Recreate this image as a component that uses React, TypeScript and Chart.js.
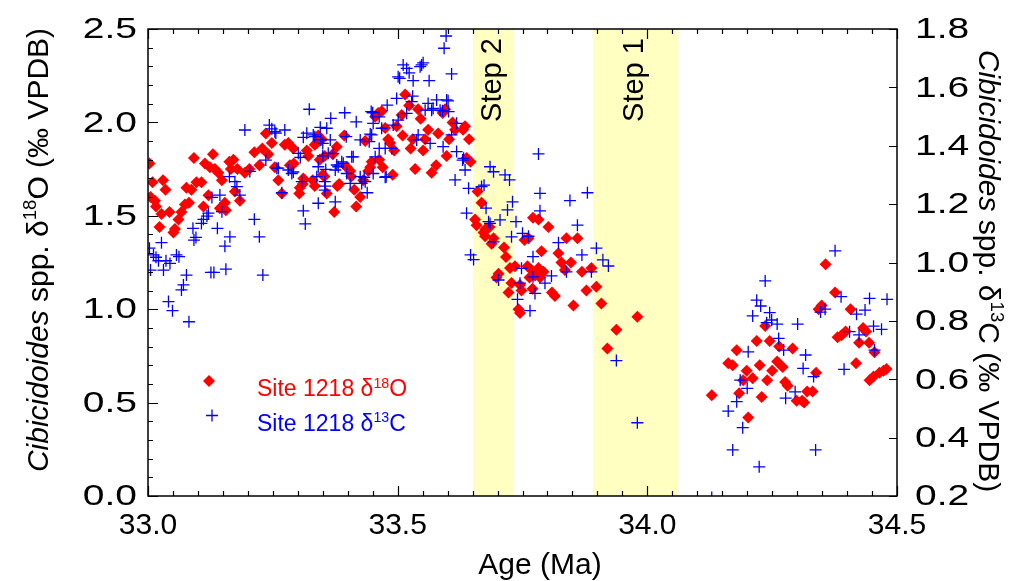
import React, { useEffect, useRef } from 'react';
import { Chart, registerables } from 'chart.js';

Chart.register(...registerables);

// ---- Data ----
const o18Points: [number, number][] = [
  [33.003, 1.78], [33.005, 1.60], [33.009, 1.68], [33.014, 1.58], [33.016, 1.55], [33.023, 1.44],
  [33.027, 1.51], [33.030, 1.69], [33.035, 1.64], [33.043, 1.52], [33.051, 1.41], [33.054, 1.43],
  [33.061, 1.48], [33.067, 1.52], [33.074, 1.56], [33.077, 1.65], [33.082, 1.57], [33.087, 1.64],
  [33.092, 1.81], [33.097, 1.68], [33.107, 1.68], [33.111, 1.55], [33.114, 1.78], [33.121, 1.61],
  [33.124, 1.76], [33.130, 1.83], [33.134, 1.75], [33.141, 1.73], [33.144, 1.54], [33.148, 1.69],
  [33.154, 1.57], [33.156, 1.53], [33.163, 1.79], [33.166, 1.75], [33.171, 1.80], [33.174, 1.63],
  [33.179, 1.75], [33.184, 1.58], [33.194, 1.73], [33.203, 1.75], [33.213, 1.84], [33.223, 1.77],
  [33.229, 1.86], [33.236, 1.94], [33.241, 1.83], [33.248, 1.89], [33.254, 1.76], [33.261, 1.69],
  [33.268, 1.62], [33.274, 1.88], [33.281, 1.89], [33.284, 1.77], [33.291, 1.86], [33.292, 1.78],
  [33.303, 1.62], [33.304, 1.65], [33.310, 1.67], [33.311, 1.70], [33.318, 1.85], [33.321, 1.82],
  [33.330, 1.69], [33.334, 1.88], [33.334, 1.66], [33.338, 1.89], [33.341, 1.93], [33.344, 1.80],
  [33.348, 1.91], [33.350, 1.72], [33.353, 1.71], [33.354, 1.82], [33.358, 1.62], [33.370, 1.83],
  [33.373, 1.52], [33.378, 1.87], [33.379, 1.66], [33.383, 1.67], [33.393, 1.93], [33.398, 1.76],
  [33.405, 1.74], [33.407, 1.71], [33.413, 1.64], [33.417, 1.55], [33.425, 1.60], [33.431, 1.69],
  [33.435, 1.90], [33.441, 1.74], [33.445, 1.76], [33.448, 1.79], [33.455, 2.03], [33.461, 2.05],
  [33.463, 1.80], [33.468, 2.06], [33.470, 1.76], [33.475, 1.97], [33.481, 1.91], [33.485, 1.89],
  [33.490, 1.72], [33.493, 1.85], [33.498, 1.98], [33.508, 2.04], [33.510, 1.93], [33.515, 2.15],
  [33.523, 2.09], [33.526, 1.86], [33.530, 1.91], [33.535, 1.75], [33.541, 2.07], [33.546, 2.02],
  [33.551, 1.85], [33.555, 1.91], [33.561, 1.96], [33.568, 1.73], [33.577, 1.77], [33.581, 1.94],
  [33.590, 2.05], [33.595, 2.07], [33.598, 1.82], [33.603, 1.91], [33.610, 2.00], [33.615, 1.96],
  [33.631, 1.96], [33.635, 1.98], [33.638, 1.81], [33.643, 1.91], [33.646, 1.79], [33.655, 1.48],
  [33.658, 1.45], [33.660, 1.63], [33.668, 1.57], [33.672, 1.41], [33.675, 1.39], [33.676, 1.43],
  [33.684, 1.44], [33.688, 1.35], [33.692, 1.38], [33.698, 1.17], [33.702, 1.19], [33.713, 1.33],
  [33.717, 1.28], [33.722, 1.09], [33.725, 1.22], [33.728, 1.14], [33.735, 1.23], [33.742, 1.00],
  [33.745, 0.98], [33.745, 1.13], [33.748, 1.10], [33.754, 1.37], [33.760, 1.23], [33.762, 1.38],
  [33.764, 1.17], [33.768, 1.21], [33.770, 1.11], [33.771, 1.49], [33.775, 1.18], [33.782, 1.48],
  [33.782, 1.22], [33.785, 1.17], [33.788, 1.31], [33.792, 1.20], [33.802, 1.44], [33.809, 1.09],
  [33.815, 1.07], [33.822, 1.30], [33.828, 1.25], [33.835, 1.21], [33.838, 1.38], [33.847, 1.25],
  [33.852, 1.02], [33.860, 1.38], [33.869, 1.20], [33.878, 1.10], [33.888, 1.22], [33.898, 1.12],
  [33.908, 1.03], [33.920, 0.79], [33.938, 0.89], [33.980, 0.96],
  [34.129, 0.54], [34.162, 0.71], [34.171, 0.70], [34.179, 0.78], [34.184, 0.55], [34.192, 0.62],
  [34.199, 0.67], [34.202, 0.42], [34.211, 0.63], [34.219, 0.83], [34.225, 0.70], [34.229, 0.53],
  [34.236, 0.91], [34.240, 0.62], [34.245, 0.83], [34.250, 0.67], [34.260, 0.72], [34.264, 0.80],
  [34.271, 0.69], [34.276, 0.61], [34.281, 0.59], [34.291, 0.79], [34.299, 0.51], [34.310, 0.51],
  [34.314, 0.50], [34.320, 0.56], [34.331, 0.56], [34.338, 0.66], [34.343, 1.00], [34.349, 1.02],
  [34.357, 1.24], [34.376, 1.09], [34.381, 0.85], [34.389, 0.86], [34.397, 0.88], [34.407, 1.00],
  [34.418, 0.71], [34.424, 0.82], [34.432, 0.90], [34.438, 0.88], [34.444, 0.82], [34.455, 0.77],
  [34.445, 0.62], [34.453, 0.64], [34.465, 0.66], [34.473, 0.67], [34.479, 0.68],
];

const c13Points: [number, number][] = [
  [33.003, 1.049], [33.005, 0.974], [33.011, 1.026], [33.016, 1.018], [33.021, 1.006], [33.027, 1.068],
  [33.031, 0.974], [33.036, 1.006], [33.041, 0.866], [33.044, 0.997], [33.049, 0.835], [33.057, 1.026],
  [33.062, 1.020], [33.067, 0.906], [33.071, 0.923], [33.077, 0.957], [33.082, 0.797], [33.090, 1.117],
  [33.092, 1.077], [33.096, 1.086], [33.107, 1.134], [33.111, 1.148], [33.118, 1.159], [33.121, 1.169],
  [33.126, 0.966], [33.128, 1.223], [33.132, 0.966], [33.139, 1.117], [33.144, 1.231], [33.148, 1.174],
  [33.154, 1.056], [33.156, 0.977], [33.163, 1.294], [33.164, 1.088], [33.174, 1.277], [33.178, 1.260],
  [33.184, 1.231], [33.194, 1.454], [33.204, 1.312], [33.213, 1.148], [33.223, 1.088], [33.230, 0.957],
  [33.236, 1.351], [33.243, 1.471], [33.248, 1.458], [33.254, 1.448], [33.256, 1.443], [33.258, 1.323],
  [33.261, 1.323], [33.268, 1.239], [33.274, 1.454], [33.281, 1.317], [33.288, 1.305], [33.291, 1.310],
  [33.301, 1.374], [33.305, 1.360], [33.308, 1.277], [33.311, 1.429], [33.311, 1.177], [33.315, 1.132],
  [33.318, 1.443], [33.323, 1.525], [33.331, 1.437], [33.334, 1.431], [33.338, 1.294], [33.341, 1.203],
  [33.341, 1.328], [33.345, 1.463], [33.346, 1.420], [33.350, 1.408], [33.350, 1.365], [33.354, 1.277],
  [33.354, 1.248], [33.355, 1.262], [33.356, 1.319], [33.358, 1.460], [33.361, 1.374], [33.365, 1.420],
  [33.366, 1.494], [33.371, 1.374], [33.375, 1.317], [33.375, 1.208], [33.378, 1.334], [33.381, 1.328],
  [33.388, 1.345], [33.391, 1.340], [33.394, 1.513], [33.397, 1.431], [33.398, 1.305], [33.405, 1.271],
  [33.408, 1.362], [33.411, 1.362], [33.417, 1.482], [33.425, 1.420], [33.425, 1.294], [33.428, 1.271],
  [33.433, 1.292], [33.435, 1.277], [33.439, 1.239], [33.443, 1.414], [33.445, 1.440], [33.447, 1.517],
  [33.448, 1.437], [33.450, 1.513], [33.451, 1.477], [33.451, 1.305], [33.455, 1.362], [33.463, 1.499],
  [33.463, 1.391], [33.468, 1.460], [33.475, 1.391], [33.475, 1.292], [33.477, 1.294], [33.479, 1.539],
  [33.488, 1.391], [33.491, 1.471], [33.498, 1.562], [33.501, 1.636], [33.501, 1.488], [33.504, 1.631],
  [33.511, 1.677], [33.518, 1.665], [33.518, 1.511], [33.523, 1.650], [33.528, 1.551], [33.530, 1.570],
  [33.531, 1.623], [33.538, 1.420], [33.541, 1.437], [33.545, 1.671], [33.548, 1.677], [33.551, 1.684],
  [33.555, 1.522], [33.561, 1.545], [33.563, 1.623], [33.565, 1.408], [33.568, 1.522], [33.571, 1.528],
  [33.578, 1.557], [33.585, 1.522], [33.590, 1.520], [33.591, 1.397], [33.593, 1.734], [33.597, 1.776],
  [33.598, 1.557], [33.601, 1.554], [33.602, 1.517], [33.608, 1.646], [33.608, 1.437], [33.615, 1.283],
  [33.618, 1.477], [33.618, 1.380], [33.630, 1.351], [33.632, 1.357], [33.635, 1.317], [33.638, 1.169],
  [33.642, 1.254], [33.646, 1.026], [33.652, 1.010], [33.668, 1.260], [33.673, 1.265], [33.677, 1.186],
  [33.682, 1.140], [33.685, 1.328], [33.685, 1.134], [33.692, 1.311], [33.692, 1.071], [33.702, 0.940],
  [33.705, 1.146], [33.715, 1.300], [33.720, 1.180], [33.724, 1.283], [33.728, 1.088], [33.730, 1.208],
  [33.737, 1.140], [33.740, 0.874], [33.745, 0.929], [33.748, 0.980], [33.750, 1.100], [33.762, 1.090],
  [33.765, 0.835], [33.771, 1.020], [33.771, 0.951], [33.775, 0.894], [33.782, 1.372], [33.785, 1.237],
  [33.785, 1.177], [33.795, 0.929], [33.808, 0.954], [33.822, 1.068], [33.838, 0.968], [33.845, 1.212],
  [33.860, 1.128], [33.869, 1.026], [33.880, 1.239], [33.888, 0.968], [33.898, 1.049], [33.911, 1.009],
  [33.922, 0.988], [33.938, 0.664], [33.980, 0.451],
  [34.129, 0.195], [34.162, 0.491], [34.171, 0.358], [34.179, 0.523], [34.186, 0.597], [34.191, 0.434],
  [34.200, 0.569], [34.202, 0.694], [34.211, 0.817], [34.219, 0.871], [34.224, 0.300], [34.227, 0.851],
  [34.236, 0.937], [34.239, 0.794], [34.245, 0.828], [34.249, 0.803], [34.260, 0.789], [34.263, 0.740],
  [34.273, 0.700], [34.277, 0.535], [34.296, 0.557], [34.301, 0.789], [34.312, 0.637], [34.317, 0.683],
  [34.333, 0.609], [34.337, 0.358], [34.347, 0.830], [34.356, 0.840], [34.376, 1.040], [34.388, 0.883],
  [34.394, 0.634], [34.405, 0.763], [34.419, 0.823], [34.424, 0.752], [34.436, 0.837], [34.445, 0.877],
  [34.453, 0.782], [34.455, 0.700], [34.469, 0.771], [34.480, 0.874],
];

const stepBands = [
  { label: 'Step 2', from: 33.651, to: 33.733 },
  { label: 'Step 1', from: 33.891, to: 34.062 },
];

const legendItems = [
  { text: ['Site 1218 δ', '18', 'O'], color: '#FF0000', marker: 'diamond' },
  { text: ['Site 1218 δ', '13', 'C'], color: '#0000FF', marker: 'plus' },
];

const FONT = "'Liberation Sans', Arial, Helvetica, sans-serif";

type Seg = { t: string; italic?: boolean; sup?: boolean };

function segWidth(ctx: CanvasRenderingContext2D, segs: Seg[], size: number) {
  let w = 0;
  for (const s of segs) {
    const fs = s.sup ? size * 0.62 : size;
    ctx.font = `${s.italic ? 'italic ' : ''}${fs}px ${FONT}`;
    w += ctx.measureText(s.t).width;
  }
  return w;
}

function drawRich(
  ctx: CanvasRenderingContext2D, segs: Seg[], cx: number, cy: number, angle: number,
  size: number, color: string, align: 'center' | 'left' = 'center'
) {
  ctx.save();
  ctx.translate(cx, cy);
  ctx.rotate(angle);
  ctx.fillStyle = color;
  ctx.textBaseline = 'alphabetic';
  ctx.textAlign = 'left';
  const total = segWidth(ctx, segs, size);
  let x = align === 'center' ? -total / 2 : 0;
  const base = size * 0.36;
  for (const s of segs) {
    const fs = s.sup ? size * 0.62 : size;
    ctx.font = `${s.italic ? 'italic ' : ''}${fs}px ${FONT}`;
    ctx.fillText(s.t, x, s.sup ? base - size * 0.38 : base);
    x += ctx.measureText(s.t).width;
  }
  ctx.restore();
}

const bandsPlugin = {
  id: 'bands',
  beforeDatasetsDraw(chart: any) {
    const { ctx, chartArea, scales } = chart;
    const xs = scales.x;
    ctx.save();
    for (const b of stepBands) {
      const x1 = xs.getPixelForValue(b.from);
      const x2 = xs.getPixelForValue(b.to);
      ctx.fillStyle = 'rgb(255,255,194)';
      ctx.fillRect(x1, chartArea.top, x2 - x1, chartArea.bottom - chartArea.top);
      drawRich(ctx, [{ t: b.label }], (x1 + x2) / 2 - 3, chartArea.top + 51, -Math.PI / 2, 29, '#000');
    }
    ctx.restore();
  },
};

function drawYLabels(ctx: CanvasRenderingContext2D, scale: any, x: number, align: 'left' | 'right') {
  ctx.save();
  ctx.fillStyle = '#000';
  ctx.font = `30px ${FONT}`;
  ctx.textBaseline = 'middle';
  ctx.textAlign = align;
  for (const t of scale.ticks) {
    const py = scale.getPixelForValue(t.value);
    ctx.save();
    ctx.translate(x, py + 1);
    ctx.scale(1.3, 1);
    ctx.fillText(Number(t.value).toFixed(1), 0, 0);
    ctx.restore();
  }
  ctx.restore();
}

const framePlugin = {
  id: 'frame',
  afterDatasetsDraw(chart: any) {
    const { ctx, chartArea, scales } = chart;
    const { left, right, top, bottom } = chartArea;
    const xs = scales.x, yl = scales.y, yr = scales.y2;
    ctx.save();
    ctx.strokeStyle = '#000';
    ctx.lineWidth = 1.5;
    ctx.strokeRect(left, top, right - left, bottom - top);
    ctx.lineWidth = 1.2;
    ctx.beginPath();
    for (let i = 0; i <= 30; i++) {
      const v = xs.min + i * 0.05;
      const px = Math.round(xs.getPixelForValue(v)) + 0.5;
      const len = i % 10 === 0 ? 10 : 5;
      ctx.moveTo(px, bottom); ctx.lineTo(px, bottom - len);
      ctx.moveTo(px, top); ctx.lineTo(px, top + len);
    }
    for (let i = 0; i <= 25; i++) {
      const v = yl.min + i * 0.1;
      const py = Math.round(yl.getPixelForValue(v)) + 0.5;
      const len = i % 5 === 0 ? 10 : 5;
      ctx.moveTo(left, py); ctx.lineTo(left + len, py);
    }
    for (let i = 0; i <= 8; i++) {
      const v = yr.min + i * 0.2;
      const py = Math.round(yr.getPixelForValue(v)) + 0.5;
      ctx.moveTo(right, py); ctx.lineTo(right - 8, py);
    }
    ctx.stroke();

    // y tick labels (from the library's generated ticks)
    drawYLabels(ctx, yl, left - 11, 'right');
    drawYLabels(ctx, yr, right + 18, 'left');

    // axis titles
    drawRich(ctx, [{ t: 'Cibicidoides', italic: true }, { t: ' spp. δ' }, { t: '18', sup: true }, { t: 'O (‰ VPDB)' }],
      37, 250, -Math.PI / 2, 30, '#000');
    drawRich(ctx, [{ t: 'Cibicidoides', italic: true }, { t: ' spp. δ' }, { t: '13', sup: true }, { t: 'C (‰ VPDB)' }],
      990, 271, Math.PI / 2, 30, '#000');
    drawRich(ctx, [{ t: 'Age (Ma)' }], 540, 563, 0, 30, '#000');

    // legend
    legendItems.forEach((it, k) => {
      const my = 381 + k * 34.5;
      const mx = 209 + k * 3;
      ctx.save();
      if (it.marker === 'diamond') {
        ctx.fillStyle = it.color;
        ctx.beginPath();
        ctx.moveTo(mx, my - 6); ctx.lineTo(mx + 6, my); ctx.lineTo(mx, my + 6); ctx.lineTo(mx - 6, my);
        ctx.closePath(); ctx.fill();
      } else {
        ctx.strokeStyle = it.color; ctx.lineWidth = 1.3;
        ctx.beginPath();
        ctx.moveTo(mx - 6, my); ctx.lineTo(mx + 6, my);
        ctx.moveTo(mx, my - 6); ctx.lineTo(mx, my + 6);
        ctx.stroke();
      }
      ctx.restore();
      drawRich(ctx, [{ t: it.text[0] }, { t: it.text[1], sup: true }, { t: it.text[2] }],
        257, my + 7, 0, 23, it.color, 'left');
    });
    ctx.restore();
  },
};

export default function App() {
  const ref = useRef<HTMLCanvasElement | null>(null);
  useEffect(() => {
    if (!ref.current) return;
    const chart = new Chart(ref.current, {
      type: 'scatter',
      data: {
        datasets: [
          {
            label: 'Site 1218 δ13C',
            data: c13Points.map(([x, y]) => ({ x, y })),
            yAxisID: 'y2',
            pointStyle: 'cross',
            pointRadius: 6,
            borderColor: '#0000FF',
            backgroundColor: '#0000FF',
            borderWidth: 1.3,
            order: 0,
          },
          {
            label: 'Site 1218 δ18O',
            data: o18Points.map(([x, y]) => ({ x, y })),
            yAxisID: 'y',
            pointStyle: 'rectRot',
            pointRadius: 6,
            backgroundColor: '#FF0000',
            borderColor: '#FF0000',
            borderWidth: 0,
            order: 1,
          },
        ],
      },
      options: {
        responsive: false,
        animation: false,
        events: [],
        layout: { padding: { top: 29, left: 0, right: 0, bottom: 0 } },
        plugins: { legend: { display: false }, tooltip: { enabled: false } },
        scales: {
          x: {
            type: 'linear', min: 33, max: 34.5,
            grid: { display: false, drawTicks: false },
            border: { display: false },
            ticks: { stepSize: 0.5, padding: 12, color: '#000', font: { family: FONT, size: 30 },
              callback: (v: any) => Number(v).toFixed(1) },
            afterFit: (s: any) => { s.height = 85; },
          },
          y: {
            type: 'linear', position: 'left', min: 0, max: 2.5,
            grid: { display: false, drawTicks: false },
            border: { display: false },
            ticks: { stepSize: 0.5, display: false, padding: 0 },
            afterFit: (s: any) => { s.width = 148; },
          },
          y2: {
            type: 'linear', position: 'right', min: 0.2, max: 1.8,
            grid: { display: false, drawTicks: false },
            border: { display: false },
            ticks: { stepSize: 0.2, display: false, padding: 0 },
            afterFit: (s: any) => { s.width = 117; },
          },
        },
      },
      plugins: [bandsPlugin, framePlugin],
    });
    return () => chart.destroy();
  }, []);
  return (
    <div style={{ position: 'fixed', left: 0, top: 0, width: 1014, height: 581, background: '#fff' }}>
      <canvas ref={ref} width={1014} height={581} style={{ display: 'block' }} />
    </div>
  );
}
